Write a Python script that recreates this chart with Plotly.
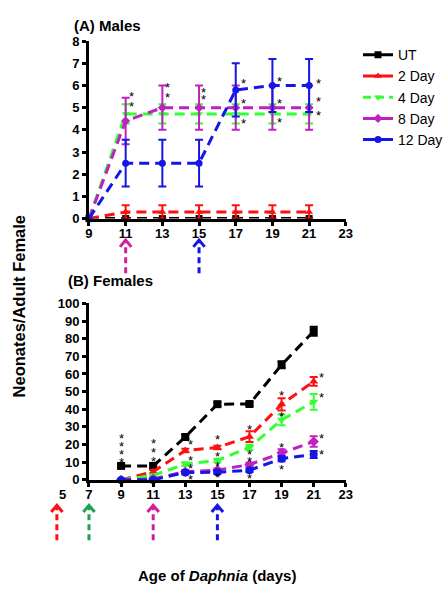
import plotly.graph_objects as go

FONT = "Liberation Sans, Arial, sans-serif"

# ---------------- data ----------------
days = [9, 11, 13, 15, 17, 19, 21]
series_names = ["UT", "2 Day", "4 Day", "8 Day", "12 Day"]
series_colors = ["#000000", "#ff1010", "#33ff33", "#c020c0", "#1515e6"]
series_symbols = ["square", "triangle-up", "triangle-down", "diamond", "circle"]

# (A) Males
male_ut = [0, 0, 0, 0, 0, 0, 0]
male_2d = [0, 0.3, 0.3, 0.3, 0.3, 0.3, 0.3]
male_4d = [0, 4.72, 4.72, 4.72, 4.72, 4.72, 4.72]
male_8d = [0, 4.4, 5.0, 5.0, 5.0, 5.0, 5.0]
male_12d = [0, 2.5, 2.5, 2.5, 5.8, 6.0, 6.0]
male_ut_err = [0, 0, 0, 0, 0, 0, 0]
male_2d_err = [0, 0.3, 0.3, 0.3, 0.3, 0.3, 0.3]
male_4d_err = [0, 0.43, 0.43, 0.43, 0.43, 0.43, 0.43]
male_8d_err = [0, 1.05, 1.0, 1.0, 1.0, 1.0, 1.0]
male_12d_err = [0, 1.05, 1.05, 1.05, 1.2, 1.2, 1.2]

# (B) Females
fem_ut = [7.9, 7.9, 24.3, 42.9, 43.0, 65.2, 84.2]
fem_2d = [0, 4.6, 16.6, 18.4, 24.5, 42.8, 55.8]
fem_4d = [0, 2.5, 9.0, 11.0, 18.4, 34.0, 44.2]
fem_8d = [0, 0.5, 4.6, 5.5, 8.7, 15.3, 21.7]
fem_12d = [0, 0, 4.2, 4.3, 5.5, 12.0, 14.4]
fem_ut_err = [1.0, 1.0, 1.2, 1.0, 1.0, 2.0, 2.5]
fem_2d_err = [0.5, 1.0, 1.0, 1.0, 3.0, 3.5, 2.5]
fem_4d_err = [0.5, 0.5, 1.0, 1.0, 1.5, 3.0, 4.5]
fem_8d_err = [0.5, 0.5, 1.0, 1.0, 1.0, 2.0, 3.0]
fem_12d_err = [0.5, 0.5, 1.0, 1.0, 1.0, 1.5, 2.0]

# significance asterisks (position of each "*")
male_star_x = [11.32, 11.32, 13.27, 13.27, 15.23, 15.23,
               17.44, 17.44, 17.44, 19.4, 19.4, 19.4, 21.5, 21.5, 21.5]
male_star_y = [5.65, 5.17, 6.05, 5.61, 5.83, 5.52,
               6.23, 5.31, 4.41, 6.31, 5.31, 4.46, 6.23, 5.43, 4.8]
fem_star_x = [9, 9, 9, 9, 11, 11, 11, 13.35, 13.35, 13.35, 13.35,
              15, 15, 15, 15, 17, 17, 17, 17, 19, 19, 19, 19,
              21.5, 21.5, 21.5, 21.5]
fem_star_y = [25.2, 20.6, 16.0, 11.6, 22.1, 17.1, 12.3, 21.5, 12.9, 7.9, 1.8,
              24.3, 14.8, 9.3, 2.8, 30.4, 16.0, 12.3, 2.4, 49.7, 37.7, 20.3, 7.4,
              59.8, 48.1, 24.9, 16.0]

# treatment start arrows
male_arrow_days = [11, 15]
male_arrow_colors = ["#d020a0", "#1515e6"]
fem_arrow_days = [5, 7, 11, 15]
fem_arrow_colors = ["#ff1010", "#20a050", "#d020a0", "#1515e6"]

male_ticks = [9, 11, 13, 15, 17, 19, 21, 23]
fem_ticks = [7, 9, 11, 13, 15, 17, 19, 21, 23]
fem_extra_tick = 5

# ---------------- layout geometry ----------------
W, H = 448, 600
XDOM = [90 / W, 362 / W]
TOP_DOM = [1 - 217 / H, 1 - 35 / H]
BOT_DOM = [1 - 485 / H, 1 - 304 / H]
TOP_XR = [9, 23]
BOT_XR = [7, 23]


def xpaper(d, xr):
    return XDOM[0] + (d - xr[0]) / (xr[1] - xr[0]) * (XDOM[1] - XDOM[0])


fig = go.Figure()

male_vals = [male_ut, male_2d, male_4d, male_8d, male_12d]
male_errs = [male_ut_err, male_2d_err, male_4d_err, male_8d_err, male_12d_err]
fem_vals = [fem_ut, fem_2d, fem_4d, fem_8d, fem_12d]
fem_errs = [fem_ut_err, fem_2d_err, fem_4d_err, fem_8d_err, fem_12d_err]


def add_series(vals, errs, xa, ya, msize):
    for name, v, e, c, s in zip(series_names, vals, errs, series_colors, series_symbols):
        fig.add_trace(go.Scatter(
            x=days, y=v, mode="lines+markers", name=name, showlegend=False,
            xaxis=xa, yaxis=ya, cliponaxis=False,
            line=dict(color=c, width=3, dash="10px,6px"),
            marker=dict(color=c, symbol=s, size=msize),
            error_y=dict(type="data", array=e, visible=True, color=c,
                         thickness=2, width=4),
        ))


add_series(male_vals, male_errs, "x", "y", 7)
add_series(fem_vals, fem_errs, "x2", "y2", 8)

# legend-only traces
for name, c, s in zip(series_names, series_colors, series_symbols):
    fig.add_trace(go.Scatter(
        x=[None], y=[None], mode="lines+markers", name=name, xaxis="x", yaxis="y",
        line=dict(color=c, width=3, dash="8px,5px" if name == "4 Day" else "solid"),
        marker=dict(color=c, symbol=s, size=7),
    ))

STAR_FONT = dict(family=FONT, size=13, color="#000")
annotations = []
for xv, yv in zip(male_star_x, male_star_y):
    annotations.append(dict(x=xv, y=yv, xref="x", yref="y", text="*", showarrow=False,
                            yanchor="middle", font=STAR_FONT, yshift=-3))
for xv, yv in zip(fem_star_x, fem_star_y):
    annotations.append(dict(x=xv, y=yv, xref="x2", yref="y2", text="*", showarrow=False,
                            yanchor="middle", font=STAR_FONT, yshift=-3))

# extra tick label "5" left of the lower axis
annotations.append(dict(x=xpaper(fem_extra_tick, BOT_XR), y=1 - 500 / H, xref="paper",
                        yref="paper", text=str(fem_extra_tick), showarrow=False,
                        yanchor="middle",
                        font=dict(family=FONT, size=13, color="black", weight="bold")))

annotations += [
    dict(x=72 / W, y=1 - 19 / H, xref="paper", yref="paper", text="<b>(A) Males</b>",
         showarrow=False, xanchor="left", yanchor="middle",
         font=dict(family=FONT, size=15, color="black")),
    dict(x=66 / W, y=1 - 280 / H, xref="paper", yref="paper", text="<b>(B) Females</b>",
         showarrow=False, xanchor="left", yanchor="middle",
         font=dict(family=FONT, size=15, color="black")),
    dict(x=16 / W, y=1 - 307 / H, xref="paper", yref="paper",
         text="<b>Neonates/Adult Female</b>", textangle=-90, showarrow=False,
         xanchor="center", yanchor="middle",
         font=dict(family=FONT, size=16.5, color="black")),
    dict(x=226 / W, y=1 - 583 / H, xref="paper", yref="paper",
         text="<b>Age of <i>Daphnia</i> (days)</b>", showarrow=False,
         xanchor="center", yanchor="middle",
         font=dict(family=FONT, size=15, color="black")),
]

shapes = []


def add_arrows(days_list, colors, xr, tip_px, tail_px):
    dx = 6 / W
    ytip = 1 - tip_px / H
    ytail = 1 - tail_px / H
    yhead = 1 - (tip_px + 7) / H
    for d, c in zip(days_list, colors):
        xp = xpaper(d, xr)
        shapes.append(dict(type="line", xref="paper", yref="paper", x0=xp, x1=xp,
                           y0=ytail, y1=1 - (tip_px + 2) / H,
                           line=dict(color=c, width=3, dash="6px,4px")))
        shapes.append(dict(type="path", xref="paper", yref="paper",
                           path=f"M {xp - dx},{yhead} L {xp},{ytip} L {xp + dx},{yhead}",
                           line=dict(color=c, width=3)))


add_arrows(male_arrow_days, male_arrow_colors, TOP_XR, 239, 273)
add_arrows(fem_arrow_days, fem_arrow_colors, BOT_XR, 511, 547)

axis_common = dict(showline=True, linewidth=3, linecolor="black", showgrid=False,
                   zeroline=False, ticks="outside", ticklen=4, tickwidth=2.5,
                   tickcolor="black",
                   tickfont=dict(family=FONT, size=13, color="black", weight="bold"))

fig.update_layout(
    width=W, height=H,
    margin=dict(l=0, r=0, t=0, b=0),
    paper_bgcolor="white", plot_bgcolor="white",
    xaxis=dict(domain=XDOM, range=TOP_XR, tickvals=male_ticks, anchor="y",
               ticklabelstandoff=-3, **axis_common),
    yaxis=dict(domain=TOP_DOM, range=[0, 8], dtick=1, anchor="x", **axis_common),
    xaxis2=dict(domain=XDOM, range=BOT_XR, tickvals=fem_ticks, anchor="y2",
                ticklabelstandoff=-3, **axis_common),
    yaxis2=dict(domain=BOT_DOM, range=[0, 100], dtick=10, anchor="x2", **axis_common),
    legend=dict(x=375 / W, y=1 - 33 / H, xanchor="left", yanchor="top",
                font=dict(family=FONT, size=14, color="black"),
                bgcolor="rgba(0,0,0,0)", itemwidth=30, tracegroupgap=0),
    annotations=annotations,
    shapes=shapes,
)

fig.write_html(
    "out.html",
    config={"displayModeBar": False},
    post_script="document.body.style.margin='0';document.body.style.overflow='hidden';",
)
